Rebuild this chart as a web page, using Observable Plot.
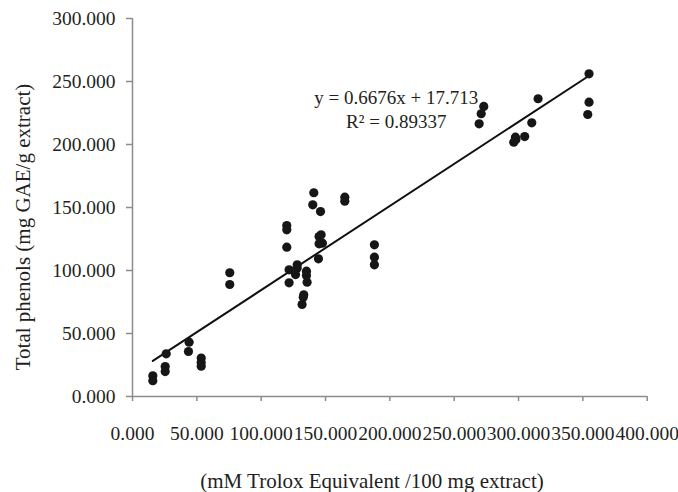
<!DOCTYPE html>
<html>
<head>
<meta charset="utf-8">
<script src="https://cdn.jsdelivr.net/npm/d3@7"></script>
<script src="https://cdn.jsdelivr.net/npm/@observablehq/plot@0.6"></script>
<style>
  html, body { margin: 0; padding: 0; background: #fff; }
</style>
</head>
<body>
<div id="chart"></div>
<script>
// Antioxidant capacity (mM Trolox Equivalent /100 mg extract)
const trolox = [
  15.8, 15.8, 26.2, 25.4, 25.4, 44.0, 43.5, 53.4, 53.4, 53.4,
  75.6, 75.6, 140.9, 140.1, 146.1, 165.0, 165.0, 119.9, 119.9, 119.9,
  146.6, 145.0, 145.0, 147.6, 144.5, 128.0, 128.0, 121.7, 126.7, 121.7,
  135.2, 135.2, 135.7, 133.1, 132.7, 131.8, 188.0, 188.0, 188.0,
  354.8, 354.8, 353.8, 315.2, 310.3, 304.8, 297.6, 296.3, 298.0,
  273.0, 271.0, 269.4
];
// Total phenols (mg GAE/g extract)
const phenols = [
  16.4, 12.5, 33.9, 23.8, 19.8, 43.1, 35.7, 30.5, 27.0, 24.0,
  98.2, 88.9, 161.7, 152.1, 146.8, 158.2, 155.0, 135.7, 132.3, 118.5,
  128.3, 127.0, 121.2, 121.7, 109.3, 104.5, 102.0, 100.5, 96.8, 90.2,
  99.5, 96.0, 90.7, 80.7, 78.8, 73.0, 120.4, 110.6, 104.5,
  256.1, 233.6, 223.8, 236.3, 217.2, 206.3, 205.8, 201.8, 204.0,
  230.2, 224.4, 216.4
];
const slope = 0.6676;
const intercept = 17.713;
const equationLines = ["y = 0.6676x + 17.713", "R\u00B2 = 0.89337"];
const xTicks = [0, 50, 100, 150, 200, 250, 300, 350, 400];
const yTicks = [0, 50, 100, 150, 200, 250, 300];
const xTitle = "(mM Trolox Equivalent /100 mg extract)";
const yTitle = "Total phenols (mg GAE/g extract)";

const points = trolox.map((x, i) => ({x, y: phenols[i]}));
const [xmin, xmax] = d3.extent(trolox);
const trend = [xmin, xmax].map(x => ({x, y: slope * x + intercept}));

const font = "'Liberation Serif', 'Times New Roman', serif";
const fmt = d3.format(".3f");
const grey = "#8c8c8c";
const ink = "#231f20";

const chart = Plot.plot({
  width: 678,
  height: 492,
  marginLeft: 132,
  marginRight: 31.3,
  marginTop: 18,
  marginBottom: 96,
  style: {fontFamily: font, fontSize: "19px", background: "#fff", color: ink},
  x: {domain: [0, 400]},
  y: {domain: [0, 300]},
  marks: [
    Plot.ruleX([0], {stroke: grey, strokeWidth: 1.5}),
    Plot.ruleY([0], {stroke: grey, strokeWidth: 1.5}),
    Plot.axisX({ticks: xTicks, tickFormat: fmt, tickSize: 5, tickPadding: 25,
      stroke: grey, strokeWidth: 1.5, fill: ink, fontSize: 19.5, label: null}),
    Plot.axisY({ticks: yTicks, tickFormat: fmt, tickSize: 6, tickPadding: 11,
      stroke: grey, strokeWidth: 1.5, fill: ink, fontSize: 19.5, label: null}),
    Plot.line(trend, {x: "x", y: "y", stroke: "#111", strokeWidth: 2}),
    Plot.dot(points, {x: "x", y: "y", r: 4.6, fill: "#161616", stroke: "none"}),
    Plot.text([equationLines.join("\n")], {
      x: 205, y: 245.6, lineAnchor: "top", textAnchor: "middle",
      lineHeight: 1.26, fontSize: 19, fill: ink
    })
  ]
});

const svg = d3.select(chart);
svg.append("text")
  .attr("transform", "translate(23,227) rotate(-90)")
  .attr("text-anchor", "middle")
  .attr("dy", "0.35em")
  .attr("fill", ink)
  .style("font-family", font)
  .style("font-size", "21px")
  .text(yTitle);
svg.append("text")
  .attr("x", 372)
  .attr("y", 481)
  .attr("text-anchor", "middle")
  .attr("dy", "0.35em")
  .attr("fill", ink)
  .style("font-family", font)
  .style("font-size", "21px")
  .text(xTitle);

document.getElementById("chart").appendChild(chart);
</script>
</body>
</html>
